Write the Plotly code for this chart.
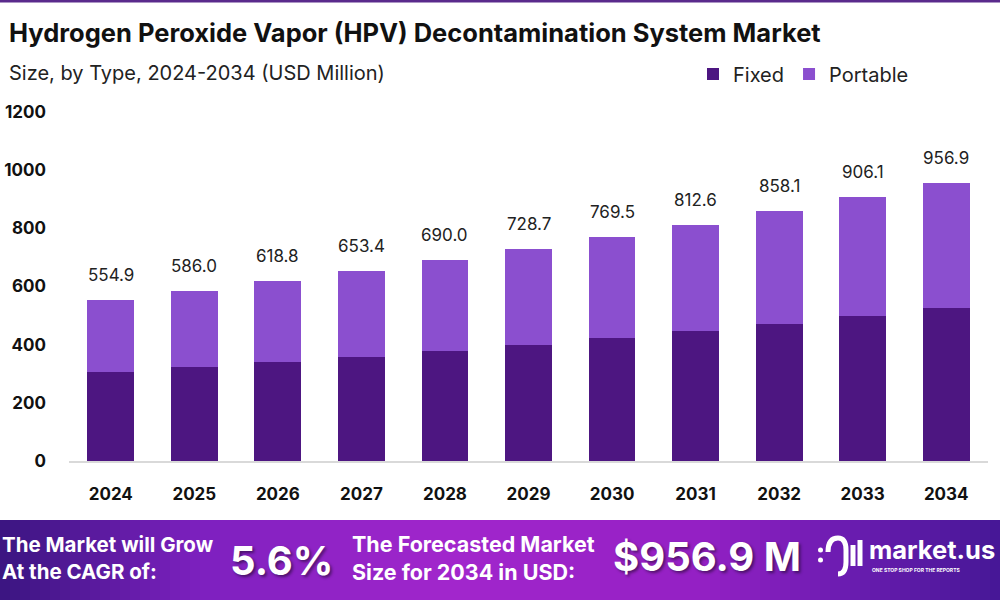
import plotly.graph_objects as go

years = ["2024", "2025", "2026", "2027", "2028", "2029", "2030", "2031", "2032", "2033", "2034"]
totals = [554.9, 586.0, 618.8, 653.4, 690.0, 728.7, 769.5, 812.6, 858.1, 906.1, 956.9]
fixed = [305, 322, 340, 359, 379, 400, 423, 447, 472, 498, 526]
portable = [round(t - f, 1) for t, f in zip(totals, fixed)]
y_ticks = [0, 200, 400, 600, 800, 1000, 1200]

FIXED_C = "#4d1681"
PORT_C = "#8b4fcf"
FONT = "Inter"

W, H = 1000, 600
L, R, T, B = 69, 12, 112, 139
PW, PH = W - L - R, H - T - B


def px(x):
    return (x - L) / PW


def py(y):
    return (H - B - y) / PH


fig = go.Figure()
fig.add_bar(x=years, y=fixed, name="Fixed", marker=dict(color=FIXED_C, line=dict(width=0)))
fig.add_bar(x=years, y=portable, name="Portable", marker=dict(color=PORT_C, line=dict(width=0)))

annotations = []
for i, t in enumerate(totals):
    annotations.append(dict(x=i, y=t, xref="x", yref="y", text=f"{t:.1f}", showarrow=False,
                            yanchor="bottom", yshift=13,
                            font=dict(family=FONT, size=17, color="#222222")))

# Title & subtitle
annotations.append(dict(x=px(7), y=py(32), xref="paper", yref="paper", xanchor="left", yanchor="middle",
                        text="<b>Hydrogen Peroxide Vapor (HPV) Decontamination System Market</b>",
                        showarrow=False, font=dict(family=FONT, size=25.5, color="#111111")))
annotations.append(dict(x=px(7), y=py(73), xref="paper", yref="paper", xanchor="left", yanchor="middle",
                        text="Size, by Type, 2024-2034 (USD Million)",
                        showarrow=False, font=dict(family=FONT, size=20, color="#222222")))

# Banner gradient
shapes = []
stops = [(0.0, (58, 21, 128)), (0.2, (125, 32, 191)), (0.45, (162, 38, 204)),
         (0.7, (148, 32, 196)), (0.85, (106, 28, 176)), (1.0, (70, 23, 150))]


def interp(f):
    for i in range(len(stops) - 1):
        a, ca = stops[i]
        b, cb = stops[i + 1]
        if a <= f <= b:
            u = (f - a) / (b - a)
            return tuple(int(round(ca[k] + u * (cb[k] - ca[k]))) for k in range(3))
    return stops[-1][1]


N = 100
for i in range(N):
    x0 = i * W / N
    x1 = (i + 1) * W / N + 0.5
    c = interp((i + 0.5) / N)
    shapes.append(dict(type="rect", xref="paper", yref="paper", x0=px(x0), x1=px(x1), y0=py(600), y1=py(520),
                       fillcolor=f"rgb{c}", line=dict(width=0), layer="below"))

# top line
shapes.append(dict(type="rect", xref="paper", yref="paper", x0=px(0), x1=px(1000), y0=py(0), y1=py(2.5),
                   fillcolor="#5a2a8c", line=dict(width=0)))

# logo icon (approximate)
shapes.append(dict(type="path", xref="paper", yref="paper",
                   path=f"M {px(828)},{py(552)} Q {px(828)},{py(538)} {px(838)},{py(538)} Q {px(846)},{py(538)} {px(846)},{py(550)} L {px(846)},{py(562)} Q {px(846)},{py(574)} {px(838)},{py(574)}",
                   line=dict(color="white", width=5)))
shapes.append(dict(type="line", xref="paper", yref="paper", x0=px(853), x1=px(853), y0=py(545), y1=py(566),
                   line=dict(color="white", width=5)))
shapes.append(dict(type="line", xref="paper", yref="paper", x0=px(860), x1=px(860), y0=py(540), y1=py(566),
                   line=dict(color="white", width=5)))
for yy in (550, 560):
    shapes.append(dict(type="circle", xref="paper", yref="paper", x0=px(818), x1=px(823), y0=py(yy + 2.5), y1=py(yy - 2.5),
                       fillcolor="white", line=dict(width=0)))

shadow = "2px 2px 3px rgba(0,0,0,0.45)"
banner_texts = [
    (0, 558, "<b>The Market will Grow<br>At the CAGR of:</b>", 20.5),
    (228, 560, "<b>5.6%</b>", 40),
    (350, 558, "<b>The Forecasted Market<br>Size for 2034 in USD:</b>", 21.5),
    (611, 556, "<b>$956.9 M</b>", 40),
    (867, 549, "<b>market.us</b>", 25.5),
]
for x, y, txt, sz in banner_texts:
    annotations.append(dict(x=px(x), y=py(y), xref="paper", yref="paper", xanchor="left", yanchor="middle",
                            text=txt, showarrow=False, align="left",
                            font=dict(family=FONT, size=sz, color="white", shadow=shadow if sz > 30 else "none")))
annotations.append(dict(x=px(870), y=py(570), xref="paper", yref="paper", xanchor="left", yanchor="middle",
                        text="<b>ONE STOP SHOP FOR THE REPORTS</b>", showarrow=False,
                        font=dict(family=FONT, size=5, color="white")))

fig.update_layout(
    width=W, height=H,
    margin=dict(l=L, r=R, t=T, b=B, autoexpand=False),
    paper_bgcolor="white", plot_bgcolor="white",
    barmode="stack", bargap=0.44,
    font=dict(family=FONT, color="#111111"),
    showlegend=True,
    legend=dict(orientation="h", x=px(693), y=py(74), xanchor="left", yanchor="middle",
                font=dict(family=FONT, size=20, color="#222222"), itemwidth=30,
                traceorder="normal", bgcolor="rgba(0,0,0,0)"),
    annotations=annotations,
    shapes=shapes,
)
fig.update_xaxes(type="category", range=[-0.5, len(years) - 0.5], showgrid=False, showline=True,
                 linecolor="#d9d9d9", linewidth=1.5,
                 ticks="", tickfont=dict(family=FONT, size=17, color="#111111", weight="bold"),
                 ticklabelstandoff=17, fixedrange=True)
fig.update_yaxes(range=[0, 1200], tickvals=y_ticks, showgrid=False, zeroline=False, showline=False,
                 ticks="", tickfont=dict(family=FONT, size=17, color="#111111", weight="bold"),
                 ticklabelstandoff=22, fixedrange=True)

fig.write_html("out.html")
